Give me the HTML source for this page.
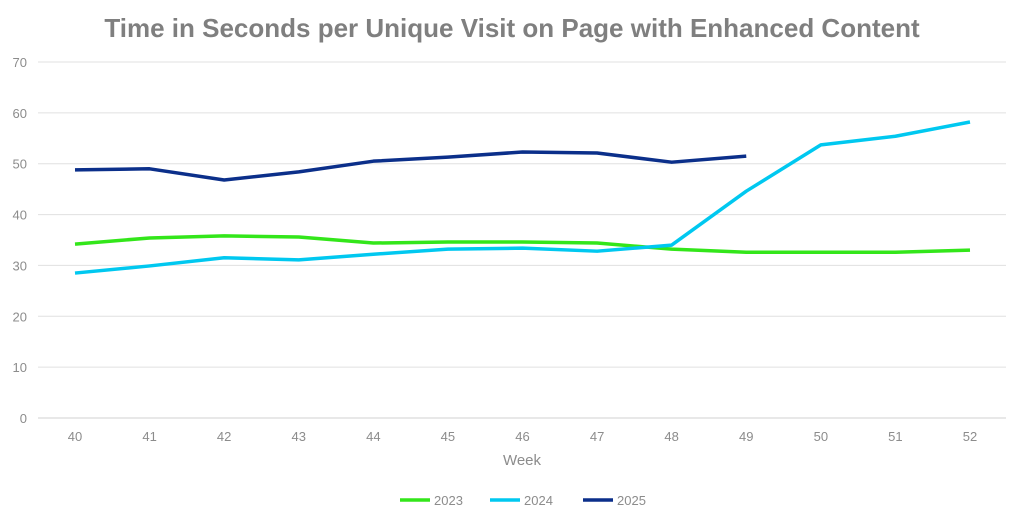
<!DOCTYPE html>
<html><head><meta charset="utf-8"><style>
body{margin:0;background:#fff;font-family:"Liberation Sans",sans-serif}
</style></head><body>
<svg id="chart" width="1024" height="524" xmlns="http://www.w3.org/2000/svg">
<text x="512" y="37" text-anchor="middle" font-size="26" font-weight="bold" fill="#7f7f7f">Time in Seconds per Unique Visit on Page with Enhanced Content</text>
<g id="grid"></g><g id="xt"></g><g id="series"></g>
<text x="522" y="465" text-anchor="middle" font-size="15" fill="#8c8c8c">Week</text>
<g id="legend"></g>
</svg>
<script>
const weeks=[40,41,42,43,44,45,46,47,48,49,50,51,52];
const yTicks=[0,10,20,30,40,50,60,70];
const s2023=[34.2,35.4,35.8,35.6,34.4,34.6,34.6,34.4,33.2,32.6,32.6,32.6,33.0];
const s2024=[28.5,29.9,31.5,31.1,32.2,33.2,33.4,32.8,34.0,44.6,53.7,55.4,58.2];
const s2025=[48.8,49.0,46.8,48.4,50.5,51.3,52.3,52.1,50.3,51.5];
const names=["2023","2024","2025"];
const colors=["#33e61a","#00c8f0","#0b2f8a"];
const NS="http://www.w3.org/2000/svg";
const x=i=>75+i*(970-75)/12;
const y=v=>418-v*(418-62)/70;
function mk(t,a,p){const e=document.createElementNS(NS,t);for(const k in a)e.setAttribute(k,a[k]);document.getElementById(p).appendChild(e);return e;}
yTicks.forEach(v=>{
 const l=mk('line',{x1:38,x2:1006,y1:y(v),y2:y(v),stroke:v?'#e0e0e0':'#d0d0d0','stroke-width':1},'grid');
 
 
 const t=mk('text',{x:27,y:y(v)+5,'text-anchor':'end','font-size':13,fill:'#8c8c8c'},'grid');t.textContent=v;
 
 
});
weeks.forEach((w,i)=>{
 const t=mk('text',{x:x(i),y:441,'text-anchor':'middle','font-size':13,fill:'#8c8c8c'},'xt');t.textContent=w;
 
 
});
[s2023,s2024,s2025].forEach((s,k)=>{
 const p=mk('polyline',{points:s.map((v,i)=>x(i)+','+y(v)).join(' '),fill:'none',stroke:colors[k],'stroke-width':3.5,'stroke-linejoin':'round'},'series');
 
 
});
const lx=[400,490,583];
names.forEach((n,k)=>{
 const l=mk('line',{x1:lx[k],x2:lx[k]+30,y1:500,y2:500,stroke:colors[k],'stroke-width':3.5},'legend');
 
 
 const t=mk('text',{x:lx[k]+34,y:505,'font-size':13,fill:'#8c8c8c'},'legend');t.textContent=n;
 
 
});
</script>
</body></html>
